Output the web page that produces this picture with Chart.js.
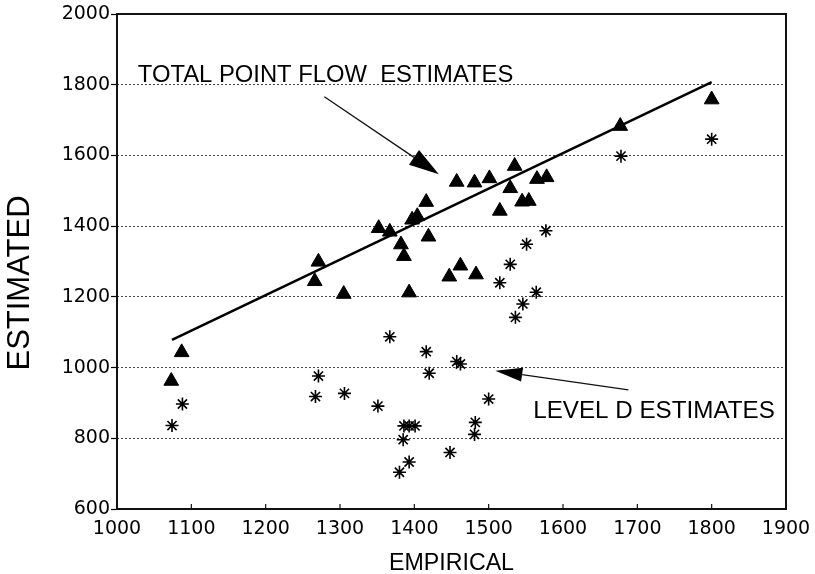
<!DOCTYPE html>
<html>
<head>
<meta charset="utf-8">
<script src="https://cdn.jsdelivr.net/npm/chart.js@4.4.1/dist/chart.umd.min.js"></script>
<style>
  html, body { margin: 0; padding: 0; background: #fff; overflow: hidden; }
  #wrap { width: 815px; height: 574px; }
</style>
</head>
<body>
<div id="wrap"><canvas id="flowChart"></canvas></div>
<script>
// total point flow estimates (triangles)
const totalEmpirical = [1073, 1087, 1266, 1271, 1305, 1352, 1367, 1382, 1386, 1393, 1397, 1404, 1416, 1419, 1447,
  1457, 1462, 1481, 1483, 1501, 1515, 1529, 1535, 1545, 1554, 1565, 1578, 1677, 1800];
const totalEstimated = [962, 1043, 1244, 1299, 1208, 1394, 1384, 1348, 1315, 1212, 1418, 1428, 1468, 1370, 1257,
  1525, 1288, 1523, 1263, 1535, 1443, 1507, 1570, 1469, 1471, 1533, 1538, 1683, 1758];

// level D estimates (stars)
const levelDEmpirical = [1074, 1088, 1267, 1271, 1306, 1351, 1367, 1380, 1385, 1386, 1393, 1401, 1393, 1416, 1420,
  1448, 1457, 1462, 1481, 1482, 1500, 1515, 1529, 1536, 1546, 1551, 1564, 1577, 1678, 1800];
const levelDEstimated = [836, 897, 918, 976, 927, 891, 1087, 704, 796, 835, 835, 835, 733, 1045, 984,
  760, 1017, 1010, 811, 845, 911, 1240, 1292, 1142, 1180, 1349, 1213, 1387, 1598, 1646];

// fitted line
const fitEmpirical = [1074, 1800];
const fitEstimated = [1078, 1807];

const xMin = 1000, xMax = 1900, xStep = 100;
const yMin = 600, yMax = 2000, yStep = 200;

const toPoints = (xs, ys) => xs.map((v, i) => ({ x: v, y: ys[i] }));

const tickFont = { family: 'DejaVu Sans', size: 19 };
const textFont = 'Liberation Sans, Arial, sans-serif';

function drawArrow(ctx, x0, y0, x1, y1, headLen, headHalf) {
  const ang = Math.atan2(y1 - y0, x1 - x0);
  const bx = x1 - headLen * Math.cos(ang);
  const by = y1 - headLen * Math.sin(ang);
  ctx.beginPath();
  ctx.moveTo(x0, y0);
  ctx.lineTo(bx, by);
  ctx.stroke();
  ctx.beginPath();
  ctx.moveTo(x1, y1);
  ctx.lineTo(bx + headHalf * Math.sin(ang), by - headHalf * Math.cos(ang));
  ctx.lineTo(bx - headHalf * Math.sin(ang), by + headHalf * Math.cos(ang));
  ctx.closePath();
  ctx.fill();
}

// frame, inner x ticks, arrows and labels
const decorations = {
  id: 'decorations',
  afterDraw(chart) {
    const { ctx, chartArea: a, scales: { x, y } } = chart;
    ctx.save();
    ctx.strokeStyle = '#111';
    ctx.fillStyle = '#000';
    ctx.lineWidth = 2;
    ctx.strokeRect(a.left, a.top, a.right - a.left, a.bottom - a.top);

    ctx.lineWidth = 1.2;
    ctx.beginPath();
    for (let v = xMin + xStep; v < xMax; v += xStep) {
      const px = x.getPixelForValue(v);
      ctx.moveTo(px, a.bottom);
      ctx.lineTo(px, a.bottom - 5);
    }
    ctx.stroke();

    ctx.lineWidth = 1.3;
    drawArrow(ctx, x.getPixelForValue(1279), y.getPixelForValue(1766),
      x.getPixelForValue(1433), y.getPixelForValue(1547), 30, 9);
    drawArrow(ctx, x.getPixelForValue(1688), y.getPixelForValue(937),
      x.getPixelForValue(1509), y.getPixelForValue(991), 27, 7);

    ctx.textBaseline = 'alphabetic';
    ctx.textAlign = 'left';
    ctx.font = '23.8px ' + textFont;
    ctx.fillText('TOTAL POINT FLOW  ESTIMATES', x.getPixelForValue(1028), y.getPixelForValue(1808));
    ctx.font = '24.2px ' + textFont;
    ctx.fillText('LEVEL D ESTIMATES', x.getPixelForValue(1560), y.getPixelForValue(858));

    ctx.textAlign = 'center';
    ctx.font = '23.2px ' + textFont;
    ctx.fillText('EMPIRICAL', (a.left + a.right) / 2, 570);

    ctx.translate(20, 283);
    ctx.rotate(-Math.PI / 2);
    ctx.textBaseline = 'middle';
    ctx.font = '31px ' + textFont;
    ctx.fillText('ESTIMATED', 0, 0);
    ctx.restore();
  }
};

const ctx = document.getElementById('flowChart').getContext('2d');
const chart = new Chart(ctx, {
  type: 'scatter',
  data: {
    datasets: [
      {
        label: 'Total point flow estimates',
        data: toPoints(totalEmpirical, totalEstimated),
        pointStyle: 'triangle',
        pointRadius: 8.5,
        backgroundColor: '#000',
        borderColor: '#000',
        borderWidth: 1
      },
      {
        label: 'Level D estimates',
        data: toPoints(levelDEmpirical, levelDEstimated),
        pointStyle: 'star',
        pointRadius: 6.5,
        borderColor: '#000',
        backgroundColor: '#000',
        borderWidth: 1.6
      },
      {
        label: 'Fit',
        data: toPoints(fitEmpirical, fitEstimated),
        showLine: true,
        pointRadius: 0,
        borderColor: '#000',
        borderWidth: 2.5
      }
    ]
  },
  options: {
    responsive: true,
    maintainAspectRatio: false,
    animation: false,
    layout: { padding: { top: 14, right: 29, left: 0, bottom: 0 } },
    plugins: {
      legend: { display: false },
      tooltip: { enabled: false }
    },
    scales: {
      x: {
        type: 'linear',
        min: xMin,
        max: xMax,
        ticks: { stepSize: xStep, color: '#000', font: tickFont, padding: 9, callback: v => String(v) },
        grid: { display: false, drawTicks: false },
        border: { display: false },
        afterFit(scale) {
          scale.height = 65;
          scale.paddingLeft = 0;
          scale.paddingRight = 0;
        }
      },
      y: {
        type: 'linear',
        min: yMin,
        max: yMax,
        ticks: { stepSize: yStep, color: '#000', font: tickFont, padding: 1, callback: v => String(v) },
        grid: {
          color: c => (c.tick && (c.tick.value === yMin || c.tick.value === yMax)) ? 'rgba(0,0,0,0)' : '#444',
          lineWidth: 1,
          tickLength: 6,
          tickColor: '#000',
          tickWidth: 1.2
        },
        border: { display: false, dash: [2, 2] },
        afterFit(scale) {
          scale.width = 117;
          scale.paddingTop = 0;
          scale.paddingBottom = 0;
        }
      }
    }
  },
  plugins: [decorations]
});
</script>
</body>
</html>
